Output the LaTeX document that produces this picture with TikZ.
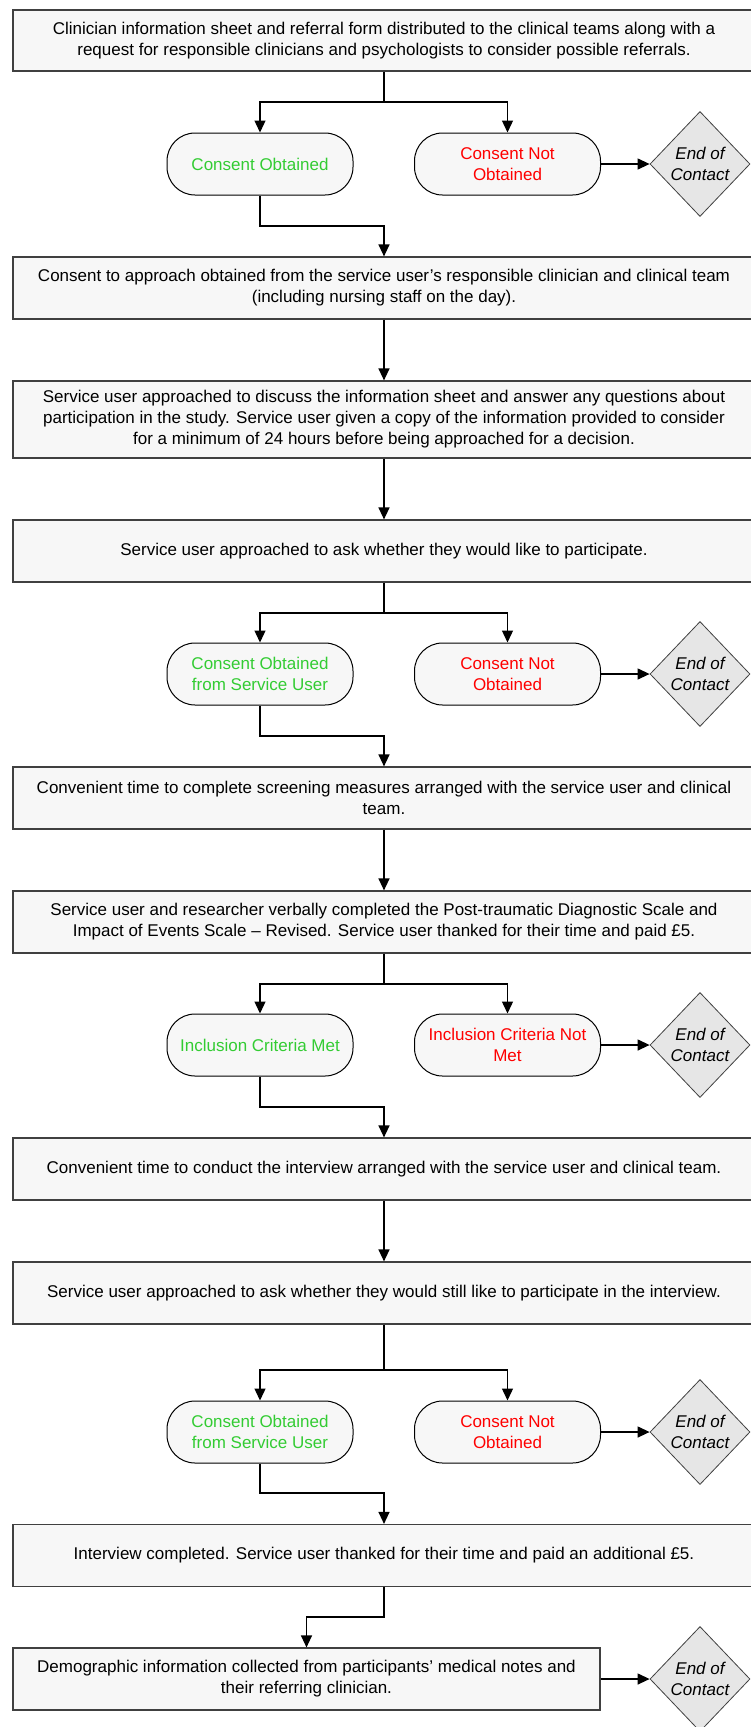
\documentclass[tikz,border=0pt]{standalone}
\usepackage{fontspec}
\setmainfont{Liberation Sans}
\usetikzlibrary{shapes.geometric,arrows.meta}
\definecolor{boxfill}{HTML}{F7F7F7}
\definecolor{boxline}{HTML}{404040}
\definecolor{dfill}{HTML}{E6E6E6}
\definecolor{okgreen}{HTML}{33CC33}
\definecolor{nored}{HTML}{FF0000}
\begin{document}
\begin{tikzpicture}[x=1pt,y=1pt,
  every node/.style={font=\fontsize{17}{21}\selectfont},
  stepbox/.style={draw=boxline,line width=1.2pt,fill=boxfill,rectangle,minimum width=742pt,align=center,inner sep=0pt},
  oval/.style={draw=black,line width=1pt,fill=boxfill,rectangle,rounded corners=28pt,minimum width=186pt,minimum height=62pt,align=center,inner sep=0pt},
  enddiamond/.style={draw=boxline,line width=0.8pt,fill=dfill,diamond,minimum width=100pt,minimum height=105pt,inner sep=0pt},
  endtext/.style={font=\fontsize{17}{21}\selectfont\itshape,align=center},
  conn/.style={line width=1.3pt,draw=black},
  arr/.style={conn,-{Triangle[length=12pt,width=11pt]}}
]
\useasboundingbox (0,0) rectangle (750,-1727);

% boxes
\node[stepbox,minimum height=61pt] (b1) at (384,-40.5) {Clinician information sheet and referral form distributed to the clinical teams along with a\\request for responsible clinicians and psychologists to consider possible referrals.};
\node[stepbox,minimum height=62pt] (b2) at (384,-288) {Consent to approach obtained from the service user’s responsible clinician and clinical team\\(including nursing staff on the day).};
\node[stepbox,minimum height=77pt] (b3) at (384,-419.5) {Service user approached to discuss the information sheet and answer any questions about\\participation in the study. Service user given a copy of the information provided to consider\\for a minimum of 24 hours before being approached for a decision.};
\node[stepbox,minimum height=62pt] (b4) at (384,-551) {Service user approached to ask whether they would like to participate.};
\node[stepbox,minimum height=62pt] (b5) at (384,-798) {Convenient time to complete screening measures arranged with the service user and clinical\\team.};
\node[stepbox,minimum height=62pt] (b6) at (384,-922) {Service user and researcher verbally completed the Post-traumatic Diagnostic Scale and\\Impact of Events Scale – Revised. Service user thanked for their time and paid £5.};
\node[stepbox,minimum height=62pt] (b7) at (384,-1169) {Convenient time to conduct the interview arranged with the service user and clinical team.};
\node[stepbox,minimum height=62pt] (b8) at (384,-1293) {Service user approached to ask whether they would still like to participate in the interview.};
\node[stepbox,minimum height=62pt] (b9) at (384,-1555.5) {Interview completed. Service user thanked for their time and paid an additional £5.};
\node[stepbox,minimum height=62pt,minimum width=587pt] (b10) at (306.5,-1679) {Demographic information collected from participants’ medical notes and\\their referring clinician.};

% ovals
\node[oval,text=okgreen] (o1) at (260,-164) {Consent Obtained};
\node[oval,text=nored] (o2) at (507.5,-164) {Consent Not\\Obtained};
\node[oval,text=okgreen] (o3) at (260,-674) {Consent Obtained\\from Service User};
\node[oval,text=nored] (o4) at (507.5,-674) {Consent Not\\Obtained};
\node[oval,text=okgreen] (o5) at (260,-1045) {Inclusion Criteria Met};
\node[oval,text=nored] (o6) at (507.5,-1045) {Inclusion Criteria Not\\Met};
\node[oval,text=okgreen] (o7) at (260,-1432) {Consent Obtained\\from Service User};
\node[oval,text=nored] (o8) at (507.5,-1432) {Consent Not\\Obtained};

% diamonds
\node[enddiamond,label={[endtext]center:End of\\Contact}] (d1) at (700,-164) {};
\node[enddiamond,label={[endtext]center:End of\\Contact}] (d2) at (700,-674) {};
\node[enddiamond,label={[endtext]center:End of\\Contact}] (d3) at (700,-1045) {};
\node[enddiamond,label={[endtext]center:End of\\Contact}] (d4) at (700,-1432) {};
\node[enddiamond,label={[endtext]center:End of\\Contact}] (d5) at (700,-1679) {};

% branch and merge points
\coordinate (s1) at (384,-102);
\coordinate (s2) at (384,-613);
\coordinate (s3) at (384,-984);
\coordinate (s4) at (384,-1370);
\coordinate (m1) at (384,-226);
\coordinate (m2) at (384,-736);
\coordinate (m3) at (384,-1107);
\coordinate (m4) at (384,-1493);
\coordinate (m5) at (384,-1617);

% connectors
\draw[conn] (b1.south) -- (s1);
\draw[arr] (s1) -| (o1.north);
\draw[arr] (s1) -| (o2.north);
\draw[arr] (o2.east) -- (d1.west);
\draw[arr] (o1.south) |- (m1) -- (b2.north);
\draw[arr] (b2.south) -- (b3.north);
\draw[arr] (b3.south) -- (b4.north);

\draw[conn] (b4.south) -- (s2);
\draw[arr] (s2) -| (o3.north);
\draw[arr] (s2) -| (o4.north);
\draw[arr] (o4.east) -- (d2.west);
\draw[arr] (o3.south) |- (m2) -- (b5.north);
\draw[arr] (b5.south) -- (b6.north);

\draw[conn] (b6.south) -- (s3);
\draw[arr] (s3) -| (o5.north);
\draw[arr] (s3) -| (o6.north);
\draw[arr] (o6.east) -- (d3.west);
\draw[arr] (o5.south) |- (m3) -- (b7.north);
\draw[arr] (b7.south) -- (b8.north);

\draw[conn] (b8.south) -- (s4);
\draw[arr] (s4) -| (o7.north);
\draw[arr] (s4) -| (o8.north);
\draw[arr] (o8.east) -- (d4.west);
\draw[arr] (o7.south) |- (m4) -- (b9.north);

\draw[arr] (b9.south) -- (m5) -| (b10.north);
\draw[arr] (b10.east) -- (d5.west);
\end{tikzpicture}
\end{document}
